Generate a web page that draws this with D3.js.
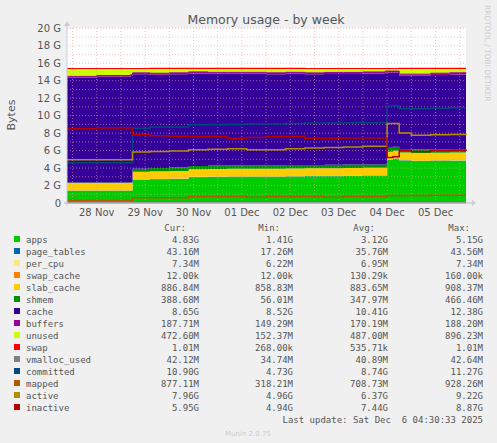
<!DOCTYPE html>
<html><head><meta charset="utf-8">
<script src="https://cdn.jsdelivr.net/npm/d3@7"></script>
<style>body{margin:0;background:#F0F0F0}svg{display:block}</style>
</head><body>
<script>
// time in days since 27 Nov 00:00
const times=[0.886,1.5,2.2,2.24,2.6,3.0,3.4,3.8,4.2,4.6,5.0,5.4,5.8,6.2,6.6,7.0,7.46,7.5,7.62,7.75,8.0,8.4,8.8,9.13];
const apps=[1.40,1.40,1.41,2.65,2.70,2.75,2.95,2.98,3.00,3.00,3.00,3.02,3.05,3.05,3.08,3.10,3.10,4.95,5.05,4.85,4.80,4.82,4.83,4.83];
const pageTables=[0.018,0.02,0.02,0.03,0.035,0.035,0.036,0.036,0.037,0.037,0.038,0.038,0.039,0.039,0.04,0.04,0.04,0.042,0.042,0.043,0.043,0.043,0.043,0.043];
const perCpu=times.map(()=>0.007);
const swapCache=times.map(()=>0.0001);
const slabCache=[0.86,0.87,0.87,0.88,0.88,0.88,0.88,0.88,0.88,0.88,0.88,0.88,0.88,0.88,0.88,0.88,0.88,0.88,0.88,0.88,0.88,0.887,0.887,0.887];
const shmem=[0.06,0.06,0.06,0.35,0.38,0.40,0.35,0.38,0.40,0.40,0.38,0.40,0.38,0.40,0.40,0.38,0.40,0.45,0.46,0.40,0.39,0.39,0.39,0.39];
const cache=[12.0,12.09,12.18,10.82,10.69,10.66,10.61,10.50,10.46,10.46,10.43,10.44,10.37,10.39,10.36,10.41,10.49,8.59,8.48,8.39,8.45,8.52,8.56,8.61];
const buffers=[0.15,0.15,0.15,0.16,0.16,0.17,0.17,0.17,0.17,0.17,0.17,0.17,0.17,0.18,0.18,0.18,0.18,0.18,0.18,0.18,0.18,0.19,0.19,0.19];
const unused=[0.9,0.8,0.7,0.5,0.55,0.5,0.4,0.45,0.45,0.45,0.5,0.45,0.5,0.45,0.45,0.4,0.3,0.3,0.3,0.65,0.65,0.55,0.5,0.45];
const swap=times.map(()=>0.001);
const vmalloc=times.map(()=>0.042);
const committed=[4.6,4.6,4.6,8.55,8.7,8.7,8.95,8.95,9.0,9.05,9.05,9.1,9.15,9.15,9.2,9.2,9.2,11.1,11.1,10.8,10.8,10.85,10.9,10.9];
const mapped=[0.3,0.3,0.3,0.6,0.6,0.6,0.75,0.75,0.75,0.65,0.75,0.75,0.75,0.65,0.75,0.75,0.75,0.85,0.85,0.85,0.85,0.88,0.88,0.88];
const active=[4.96,4.96,4.96,5.85,5.9,5.95,6.1,6.15,6.2,6.1,6.1,6.2,6.3,6.35,6.4,6.5,6.5,9.1,9.1,8.0,7.75,7.8,7.85,7.96];
const inactive=[8.5,8.6,8.6,7.85,7.7,7.65,7.6,7.6,7.4,7.5,7.6,7.6,7.4,7.4,7.45,7.45,7.4,5.2,5.3,6.0,5.9,6.0,6.05,5.95];
const dayTicks=[1.5,2.5,3.5,4.5,5.5,6.5,7.5,8.5];
const dayLabels=["28 Nov","29 Nov","30 Nov","01 Dec","02 Dec","03 Dec","04 Dec","05 Dec"];
const yTicks=[0,2,4,6,8,10,12,14,16,18,20];
const yLabels=["0","2 G","4 G","6 G","8 G","10 G","12 G","14 G","16 G","18 G","20 G"];
const legendNames=["apps","page_tables","per_cpu","swap_cache","slab_cache","shmem","cache","buffers","unused","swap","vmalloc_used","committed","mapped","active","inactive"];
const legendColors=["#00CC00","#0066B3","#FFE680","#FF8000","#FFCC00","#008F00","#330099","#990099","#CCFF00","#FF0000","#808080","#00487D","#B35A00","#B38F00","#B30000"];
const legendCur=["4.83G","43.16M","7.34M","12.00k","886.84M","388.68M","8.65G","187.71M","472.60M","1.01M","42.12M","10.90G","877.11M","7.96G","5.95G"];
const legendMin=["1.41G","17.26M","6.22M","12.00k","858.83M","56.01M","8.52G","149.29M","152.37M","268.00k","34.74M","4.73G","318.21M","4.96G","4.94G"];
const legendAvg=["3.12G","35.76M","6.95M","130.29k","883.65M","347.97M","10.41G","170.19M","487.00M","535.71k","40.89M","8.74G","708.73M","6.37G","7.44G"];
const legendMax=["5.15G","43.56M","7.34M","160.00k","908.37M","466.46M","12.38G","188.20M","896.23M","1.01M","42.64M","11.27G","928.26M","9.22G","8.87G"];

const W=497,H=443;
const svg=d3.select("body").append("svg").attr("width",W).attr("height",H);
const x=d3.scaleLinear().domain([0.886,9.13]).range([67,466]);
const y=d3.scaleLinear().domain([0,20]).range([203,28.3]);
svg.append("rect").attr("x",67).attr("y",28.3).attr("width",399).attr("height",174.7).attr("fill","#fff");

const stackSeries=[apps,pageTables,perCpu,swapCache,slabCache,shmem,cache,buffers,unused,swap];
const rows=times.map((t,i)=>{const r={t};stackSeries.forEach((s,k)=>r["s"+k]=s[i]);return r;});
const stack=d3.stack().keys(stackSeries.map((_,k)=>"s"+k))(rows);
const area=d3.area().curve(d3.curveStepAfter).x(d=>x(d.data.t)).y0(d=>y(d[0])).y1(d=>y(d[1]));
svg.append("g").selectAll("path").data(stack).join("path").attr("d",area).attr("fill",(d,k)=>legendColors[k]);

// grid
const g=svg.append("g");
yTicks.concat(d3.range(1,20,2)).forEach(v=>{if(v>0)g.append("line").attr("x1",67).attr("x2",466).attr("y1",y(v)).attr("y2",y(v)).attr("stroke","#e6a0a0").attr("stroke-width",0.6).attr("stroke-dasharray","1,2");});
d3.range(1,9.2,0.5).forEach(v=>g.append("line").attr("x1",x(v)).attr("x2",x(v)).attr("y1",28).attr("y2",203).attr("stroke","#e6a0a0").attr("stroke-width",0.6).attr("stroke-dasharray","1,2"));

// swap top line
svg.append("path").datum(stack[9]).attr("d",d3.line().curve(d3.curveStepAfter).x(d=>x(d.data.t)).y(d=>y(d[1]))).attr("fill","none").attr("stroke","#FF0000").attr("stroke-width",1.2);
// buffers line top
svg.append("path").datum(stack[7]).attr("d",d3.line().curve(d3.curveStepAfter).x(d=>x(d.data.t)).y(d=>y(d[1]))).attr("fill","none").attr("stroke","#990099").attr("stroke-width",1);

const line=d3.line().curve(d3.curveStepAfter).x((d,i)=>x(times[i])).y(d=>y(d));
[[vmalloc,10],[committed,11],[mapped,12],[active,13],[inactive,14]].forEach(([s,k])=>
  svg.append("path").datum(s).attr("d",line).attr("fill","none").attr("stroke",legendColors[k]).attr("stroke-width",1.5));

// axes
svg.append("line").attr("x1",64).attr("x2",472).attr("y1",203).attr("y2",203).attr("stroke","#bbb");
svg.append("line").attr("x1",67).attr("x2",67).attr("y1",206).attr("y2",23).attr("stroke","#ccd");
svg.append("path").attr("d","M472,200 L476,203 L472,206Z").attr("fill","#ccd");
svg.append("path").attr("d","M64,26 L67,21 L70,26Z").attr("fill","#ccd");
const font="DejaVu Sans";
yTicks.forEach((v,i)=>svg.append("text").attr("x",61).attr("y",y(v)+3.5).attr("text-anchor","end").attr("font-family",font).attr("font-size",10).attr("fill","#555").text(yLabels[i]));
dayTicks.forEach((v,i)=>svg.append("text").attr("x",x(v)).attr("y",216).attr("text-anchor","middle").attr("font-family",font).attr("font-size",10).attr("fill","#555").text(dayLabels[i]));
svg.append("text").attr("x",266).attr("y",24).attr("text-anchor","middle").attr("font-family",font).attr("font-size",12.5).attr("fill","#555").text("Memory usage - by week");
svg.append("text").attr("transform","translate(15,115) rotate(-90)").attr("text-anchor","middle").attr("font-family",font).attr("font-size",11).attr("fill","#555").text("Bytes");
svg.append("text").attr("transform","translate(485,5) rotate(90)").attr("font-family",font).attr("font-size",7.5).attr("fill","#ccc").text("RRDTOOL / TOBI OETIKER");

// legend
const mono="DejaVu Sans Mono";
const cols=[199,293,388,483],hdr=["Cur:","Min:","Avg:","Max:"];
hdr.forEach((h,i)=>svg.append("text").attr("x",cols[i]-13).attr("y",231).attr("text-anchor","end").attr("font-family",mono).attr("font-size",9).attr("fill","#555").text(h));
legendNames.forEach((n,i)=>{
  const yy=243+i*12;
  svg.append("rect").attr("x",14).attr("y",yy-7).attr("width",6).attr("height",6).attr("fill",legendColors[i]);
  svg.append("text").attr("x",26).attr("y",yy).attr("font-family",mono).attr("font-size",9).attr("fill","#555").text(n);
  [legendCur,legendMin,legendAvg,legendMax].forEach((a,c)=>svg.append("text").attr("x",cols[c]).attr("y",yy).attr("text-anchor","end").attr("font-family",mono).attr("font-size",9).attr("fill","#555").text(a[i]));
});
svg.append("text").attr("x",483).attr("y",423).attr("text-anchor","end").attr("font-family",mono).attr("font-size",9).attr("fill","#555").attr("xml:space","preserve").style("white-space","pre").text("Last update: Sat Dec  6 04:30:33 2025");
svg.append("text").attr("x",248).attr("y",436).attr("text-anchor","middle").attr("font-family",font).attr("font-size",7).attr("fill","#ccc").text("Munin 2.0.75");
</script>
</body></html>
